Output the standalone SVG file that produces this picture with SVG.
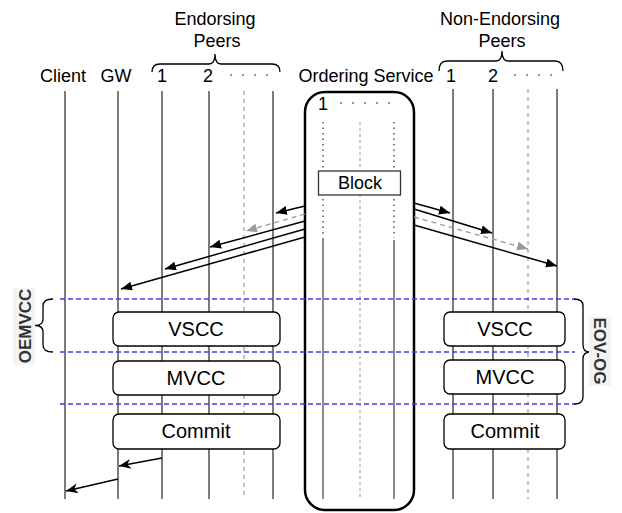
<svg xmlns="http://www.w3.org/2000/svg" width="622" height="513" viewBox="0 0 622 513">
<style>
  .lbl { font-family: "Liberation Sans", Arial, sans-serif; font-size: 18px; fill: #000; text-anchor: middle; }
  .box-t { font-family: "Liberation Sans", Arial, sans-serif; font-size: 20px; fill: #000; text-anchor: middle; }
  .side { font-family: "Liberation Sans", Arial, sans-serif; font-size: 17px; font-weight: bold; fill: #333; text-anchor: middle; }
  .life { stroke: #444; stroke-width: 1.4; fill: none; }
  .life-d { stroke: #999; stroke-width: 1.2; stroke-dasharray: 4 4; fill: none; }
  .dots { stroke: #999; stroke-width: 2; stroke-dasharray: 2 10; fill: none; }
  .brace { stroke: #000; stroke-width: 1.3; fill: none; }
  .blue { stroke: #3d3df0; stroke-width: 1.3; stroke-dasharray: 5 3; fill: none; }
  .node rect { fill: #fff; stroke: #000; stroke-width: 1.3; }
  .arr { stroke: #000; stroke-width: 1.5; fill: none; marker-end: url(#ah); }
  .arr-g { stroke: #999; stroke-width: 1.3; stroke-dasharray: 5 4; fill: none; marker-end: url(#ahg); }
  .arr-s { stroke: #000; stroke-width: 1.3; fill: none; marker-end: url(#ahs); }
</style>
<defs>
  <marker id="ah" markerUnits="userSpaceOnUse" markerWidth="12" markerHeight="10" refX="11" refY="4.5" orient="auto">
    <path d="M0,0 L11,4.5 L0,9 z" fill="#000"/>
  </marker>
  <marker id="ahg" markerUnits="userSpaceOnUse" markerWidth="12" markerHeight="10" refX="11" refY="4.5" orient="auto">
    <path d="M0,0 L11,4.5 L0,9 z" fill="#999"/>
  </marker>
  <marker id="ahs" markerUnits="userSpaceOnUse" markerWidth="13" markerHeight="11" refX="12" refY="5" orient="auto">
    <path d="M0,0 L12,5 L0,10 L3.5,5 z" fill="#000"/>
  </marker>
</defs>
<rect width="622" height="513" fill="#fff"/>

<!-- header labels -->
<g id="labels">
  <text class="lbl" x="215" y="25">Endorsing</text>
  <text class="lbl" x="217" y="47">Peers</text>
  <path class="brace" d="M152,72 Q152,64 160,64 L209,64 Q215,64 215,54 Q215,64 221,64 L272,64 Q280,64 280,72"/>
  <text class="lbl" x="500" y="25">Non-Endorsing</text>
  <text class="lbl" x="502" y="47">Peers</text>
  <path class="brace" d="M439,71 Q439,61 447,61 L496,61 Q502,61 502,51 Q502,61 508,61 L555,61 Q563,61 563,71"/>
  <text class="lbl" x="63" y="82">Client</text>
  <text class="lbl" x="116" y="82">GW</text>
  <text class="lbl" x="162" y="82">1</text>
  <text class="lbl" x="208" y="82">2</text>
  <line class="dots" x1="230" y1="75" x2="268" y2="75"/>
  <text class="lbl" x="366" y="82">Ordering Service</text>
  <text class="lbl" x="451" y="82">1</text>
  <text class="lbl" x="493" y="82">2</text>
  <line class="dots" x1="514" y1="75" x2="552" y2="75"/>
</g>

<!-- lifelines -->
<g id="lifelines">
  <line id="client" class="life" x1="65" y1="91" x2="65" y2="499"/>
  <line id="gw" class="life" x1="118" y1="91" x2="118" y2="499"/>
  <line id="ep1" class="life" x1="162" y1="91" x2="162" y2="499"/>
  <line id="ep2" class="life" x1="209" y1="91" x2="209" y2="499" stroke="#111"/>
  <line id="ep3" class="life-d" x1="244" y1="91" x2="244" y2="499"/>
  <line id="ep4" class="life" x1="273" y1="91" x2="273" y2="499"/>
  <line id="nep1" class="life" x1="453" y1="89" x2="453" y2="499" stroke="#111"/>
  <line id="nep2" class="life" x1="493" y1="89" x2="493" y2="499" stroke="#111"/>
  <line id="nep3" class="life-d" x1="528" y1="89" x2="528" y2="499"/>
  <line id="nep4" class="life" x1="557" y1="89" x2="557" y2="499" stroke="#111"/>
</g>

<!-- ordering service -->
<g id="ordering-service">
  <rect x="305" y="92" width="109" height="418" rx="20" ry="20" fill="none" stroke="#000" stroke-width="2.5"/>
  <text class="lbl" x="323" y="110">1</text>
  <line class="dots" x1="340" y1="103" x2="392" y2="103" stroke-dasharray="2 10.5"/>
  <line x1="323" y1="122" x2="323" y2="236" stroke="#555" stroke-width="1.5" stroke-dasharray="1.5 4"/>
  <line x1="323" y1="238" x2="323" y2="499" stroke="#666" stroke-width="1.5"/>
  <line x1="360" y1="122" x2="360" y2="499" stroke="#bbb" stroke-width="1.5" stroke-dasharray="3 3"/>
  <line x1="394" y1="122" x2="394" y2="238" stroke="#555" stroke-width="1.5" stroke-dasharray="1.5 4"/>
  <line x1="394" y1="240" x2="394" y2="499" stroke="#666" stroke-width="1.5"/>
</g>
<g id="block" class="node">
  <rect x="318.5" y="171" width="82" height="24" style="stroke:#333"/>
  <text class="lbl" x="360" y="189">Block</text>
</g>

<!-- connectors -->
<g id="connectors">
  <line class="arr" x1="305" y1="206" x2="276" y2="213"/>
  <line class="arr-g" x1="305" y1="214" x2="246" y2="231"/>
  <line class="arr" x1="305" y1="221" x2="210" y2="247"/>
  <line class="arr" x1="305" y1="229" x2="165" y2="269"/>
  <line class="arr" x1="305" y1="237" x2="121" y2="289"/>
  <line class="arr" x1="414" y1="203" x2="450" y2="213"/>
  <line class="arr" x1="414" y1="209" x2="492" y2="233"/>
  <line class="arr-g" x1="414" y1="217" x2="528" y2="249"/>
  <line class="arr" x1="414" y1="225" x2="557" y2="266"/>
  <line class="arr-s" x1="162" y1="458" x2="119" y2="466"/>
  <line class="arr-s" x1="118" y1="479" x2="66" y2="491"/>
</g>

<!-- phase markers -->
<g id="phases">
  <line class="blue" x1="60" y1="299" x2="575" y2="299"/>
  <line class="blue" x1="60" y1="352" x2="575" y2="352"/>
  <line class="blue" x1="60" y1="404" x2="575" y2="404"/>
  <path class="brace" d="M53,299 Q43,299 43,306 L43,319 Q43,325.5 35,325.5 Q43,325.5 43,332 L43,345 Q43,352 53,352"/>
  <path class="brace" d="M574,299 Q583,299 583,306 L583,345 Q583,352 590,352 Q583,352 583,359 L583,397 Q583,404 574,404"/>
</g>
<g id="oemvcc">
  <rect x="13" y="288" width="22" height="77" fill="#f4f4f4"/>
  <text class="side" transform="translate(31,326) rotate(-90)">OEMVCC</text>
</g>
<g id="eov-og">
  <rect x="589" y="317" width="22" height="69" fill="#f4f4f4"/>
  <text class="side" transform="translate(594,351) rotate(90)">EOV-OG</text>
</g>

<!-- nodes -->
<g id="vscc-e" class="node">
  <rect x="113" y="312" width="167" height="34" rx="6" ry="6"/>
  <text class="box-t" x="196" y="336">VSCC</text>
</g>
<g id="mvcc-e" class="node">
  <rect x="113" y="361" width="167" height="34" rx="6" ry="6"/>
  <text class="box-t" x="196" y="385">MVCC</text>
</g>
<g id="commit-e" class="node">
  <rect x="113" y="414" width="167" height="35" rx="6" ry="6"/>
  <text class="box-t" x="196" y="438">Commit</text>
</g>
<g id="vscc-n" class="node">
  <rect x="444" y="312" width="121" height="34" rx="6" ry="6"/>
  <text class="box-t" x="505" y="336">VSCC</text>
</g>
<g id="mvcc-n" class="node">
  <rect x="444" y="360" width="121" height="34" rx="6" ry="6"/>
  <text class="box-t" x="505" y="384">MVCC</text>
</g>
<g id="commit-n" class="node">
  <rect x="444" y="414" width="121" height="35" rx="6" ry="6"/>
  <text class="box-t" x="505" y="438">Commit</text>
</g>
</svg>
